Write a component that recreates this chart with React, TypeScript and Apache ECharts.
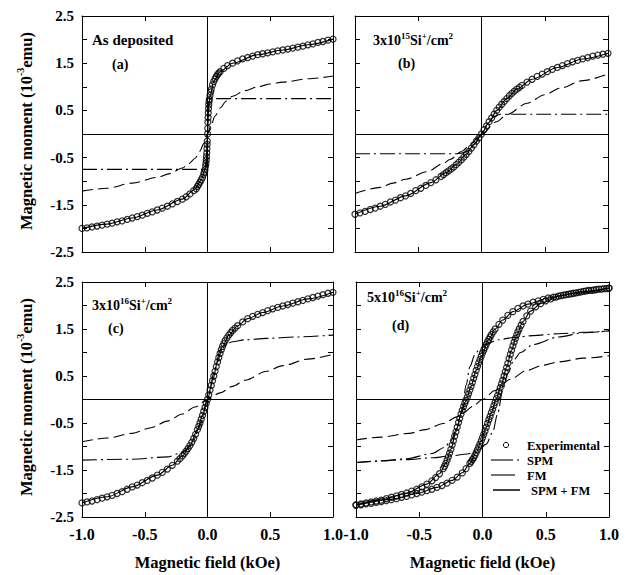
import React, { useEffect, useRef } from 'react';
import * as echarts from 'echarts';

const FONT = '"Liberation Serif","Times New Roman",Times,serif';

const xTickLabels = ['-1.0', '-0.5', '0.0', '0.5', '1.0'];
const yTickLabels = ['-2.5', '-1.5', '-0.5', '0.5', '1.5', '2.5'];

// ---------- Panel (a): As deposited ----------
const expA: number[][] = [
  [-1.0, -2.0], [-0.96, -1.99], [-0.92, -1.97], [-0.88, -1.95], [-0.84, -1.93], [-0.8, -1.91],
  [-0.76, -1.89], [-0.72, -1.86], [-0.68, -1.84], [-0.64, -1.81], [-0.6, -1.78], [-0.56, -1.75],
  [-0.52, -1.72], [-0.48, -1.68], [-0.44, -1.65], [-0.4, -1.61], [-0.36, -1.57], [-0.32, -1.53],
  [-0.28, -1.48], [-0.24, -1.43], [-0.2, -1.38], [-0.17, -1.33], [-0.14, -1.27], [-0.11, -1.2],
  [-0.09, -1.16], [-0.08, -1.11], [-0.07, -1.07], [-0.06, -1.02], [-0.05, -0.97], [-0.04, -0.92],
  [-0.03, -0.85], [-0.025, -0.81], [-0.02, -0.76], [-0.015, -0.68], [-0.0125, -0.62], [-0.01, -0.55],
  [-0.008, -0.48], [-0.006, -0.4], [-0.0045, -0.31], [-0.003, -0.22], [-0.002, -0.15], [0, 0],
  [0.0015, 0.12], [0.003, 0.25], [0.0045, 0.35], [0.006, 0.45], [0.008, 0.54], [0.01, 0.62],
  [0.0125, 0.69], [0.015, 0.74], [0.02, 0.82], [0.025, 0.89], [0.03, 0.95], [0.04, 1.04],
  [0.05, 1.11], [0.06, 1.17], [0.07, 1.22], [0.08, 1.26], [0.09, 1.29], [0.1, 1.32], [0.13, 1.39],
  [0.16, 1.45], [0.2, 1.5], [0.24, 1.55], [0.28, 1.59], [0.32, 1.62], [0.36, 1.65], [0.4, 1.68],
  [0.44, 1.7], [0.48, 1.72], [0.52, 1.74], [0.56, 1.76], [0.6, 1.78], [0.64, 1.8], [0.68, 1.82],
  [0.72, 1.84], [0.76, 1.86], [0.8, 1.89], [0.84, 1.91], [0.88, 1.94], [0.92, 1.96], [0.96, 1.99],
  [1.0, 2.01],
];
const fitA: number[][] = [
  [-1, -2.0], [-0.8, -1.91], [-0.6, -1.78], [-0.4, -1.61], [-0.2, -1.38], [-0.1, -1.17],
  [-0.05, -0.97], [-0.02, -0.76], [-0.01, -0.55], [0, 0], [0.01, 0.6], [0.02, 0.8],
  [0.05, 1.12], [0.1, 1.32], [0.2, 1.5], [0.4, 1.68], [0.6, 1.78], [0.8, 1.89], [1, 2.01],
];
const fmA: number[][] = [
  [-1, -1.21], [-0.8, -1.15], [-0.6, -1.04], [-0.4, -0.92], [-0.3, -0.84], [-0.2, -0.72],
  [-0.15, -0.63], [-0.1, -0.52], [-0.06, -0.36], [-0.03, -0.2], [0, 0], [0.03, 0.2],
  [0.06, 0.38], [0.1, 0.55], [0.15, 0.7], [0.2, 0.8], [0.3, 0.92], [0.4, 1.0], [0.5, 1.06],
  [0.6, 1.1], [0.8, 1.17], [1, 1.23],
];
const spmA: number[][] = [
  [-1, -0.75], [-0.5, -0.75], [-0.03, -0.75], [-0.01, -0.7], [-0.005, -0.5], [0, 0],
  [0.005, 0.5], [0.01, 0.72], [0.03, 0.75], [0.5, 0.75], [1, 0.75],
];

// ---------- Panel (b): 3x10^15 Si+/cm2 ----------
const expB: number[][] = [
  [-1.0, -1.7], [-0.96, -1.67], [-0.92, -1.64], [-0.88, -1.6], [-0.84, -1.57], [-0.8, -1.53],
  [-0.76, -1.49], [-0.72, -1.44], [-0.68, -1.4], [-0.64, -1.35], [-0.6, -1.31], [-0.56, -1.26],
  [-0.52, -1.2], [-0.48, -1.15], [-0.44, -1.09], [-0.4, -1.03], [-0.36, -0.97], [-0.32, -0.9],
  [-0.3, -0.86], [-0.28, -0.82], [-0.26, -0.78], [-0.24, -0.74], [-0.22, -0.7], [-0.2, -0.65],
  [-0.18, -0.6], [-0.16, -0.55], [-0.14, -0.49], [-0.12, -0.43], [-0.1, -0.37], [-0.08, -0.3],
  [-0.06, -0.23], [-0.04, -0.15], [-0.02, -0.08], [0, 0], [0.02, 0.09], [0.04, 0.17], [0.06, 0.26],
  [0.08, 0.34], [0.1, 0.42], [0.12, 0.5], [0.14, 0.57], [0.16, 0.63], [0.18, 0.69], [0.2, 0.75],
  [0.22, 0.81], [0.24, 0.86], [0.26, 0.91], [0.28, 0.95], [0.3, 0.99], [0.32, 1.03], [0.36, 1.1],
  [0.4, 1.16], [0.44, 1.22], [0.48, 1.27], [0.52, 1.32], [0.56, 1.37], [0.6, 1.41], [0.64, 1.45],
  [0.68, 1.49], [0.72, 1.53], [0.76, 1.56], [0.8, 1.59], [0.84, 1.62], [0.88, 1.65], [0.92, 1.67],
  [0.96, 1.69], [1.0, 1.71],
];
const fitB: number[][] = [
  [-1, -1.7], [-0.8, -1.53], [-0.6, -1.31], [-0.4, -1.03], [-0.28, -0.82], [-0.2, -0.65],
  [-0.12, -0.43], [-0.06, -0.22], [0, 0], [0.06, 0.25], [0.12, 0.5], [0.2, 0.75], [0.28, 0.95],
  [0.4, 1.16], [0.6, 1.41], [0.8, 1.59], [1, 1.71],
];
const fmB: number[][] = [
  [-1, -1.26], [-0.8, -1.13], [-0.7, -1.04], [-0.6, -0.96], [-0.43, -0.8], [-0.3, -0.62],
  [-0.25, -0.54], [-0.15, -0.36], [-0.09, -0.22], [0, 0], [0.12, 0.26], [0.2, 0.41],
  [0.36, 0.65], [0.5, 0.83], [0.62, 0.97], [0.8, 1.13], [1, 1.27],
];
const spmB: number[][] = [
  [-1, -0.42], [-0.5, -0.42], [-0.2, -0.42], [-0.15, -0.4], [-0.1, -0.35], [-0.05, -0.2],
  [0, 0], [0.05, 0.22], [0.1, 0.37], [0.15, 0.42], [0.5, 0.42], [1, 0.42],
];

// ---------- Panel (c): 3x10^16 Si+/cm2 ----------
const expC: number[][] = [
  [-1.0, -2.2], [-0.96, -2.18], [-0.92, -2.16], [-0.88, -2.13], [-0.84, -2.1], [-0.8, -2.07],
  [-0.76, -2.04], [-0.72, -2.0], [-0.68, -1.96], [-0.64, -1.91], [-0.6, -1.86], [-0.56, -1.82],
  [-0.52, -1.77], [-0.48, -1.72], [-0.44, -1.67], [-0.4, -1.61], [-0.36, -1.55], [-0.32, -1.48],
  [-0.28, -1.4], [-0.24, -1.31], [-0.22, -1.26], [-0.2, -1.2], [-0.185, -1.15], [-0.17, -1.1],
  [-0.155, -1.04], [-0.14, -0.98], [-0.125, -0.91], [-0.11, -0.83], [-0.095, -0.74], [-0.08, -0.64],
  [-0.07, -0.57], [-0.06, -0.5], [-0.05, -0.42], [-0.04, -0.34], [-0.03, -0.25], [-0.02, -0.17],
  [-0.01, -0.08], [0, 0], [0.01, 0.1], [0.02, 0.2], [0.03, 0.3], [0.04, 0.4], [0.05, 0.5],
  [0.06, 0.6], [0.07, 0.7], [0.08, 0.8], [0.09, 0.89], [0.1, 0.98], [0.11, 1.06], [0.12, 1.13],
  [0.13, 1.19], [0.14, 1.25], [0.155, 1.31], [0.17, 1.37], [0.185, 1.42], [0.2, 1.47], [0.22, 1.52],
  [0.24, 1.57], [0.28, 1.65], [0.32, 1.72], [0.36, 1.77], [0.4, 1.81], [0.44, 1.85], [0.48, 1.89],
  [0.52, 1.93], [0.56, 1.96], [0.6, 1.99], [0.64, 2.02], [0.68, 2.05], [0.72, 2.08], [0.76, 2.11],
  [0.8, 2.14], [0.84, 2.17], [0.88, 2.2], [0.92, 2.23], [0.96, 2.26], [1.0, 2.28],
];
const fitC: number[][] = [
  [-1, -2.2], [-0.8, -2.07], [-0.6, -1.86], [-0.4, -1.61], [-0.28, -1.4], [-0.2, -1.2],
  [-0.14, -0.98], [-0.08, -0.64], [-0.04, -0.34], [0, 0], [0.04, 0.4], [0.08, 0.8], [0.12, 1.13],
  [0.17, 1.37], [0.24, 1.57], [0.32, 1.72], [0.44, 1.85], [0.6, 1.99], [0.8, 2.14], [1, 2.28],
];
const fmC: number[][] = [
  [-1, -0.9], [-0.8, -0.82], [-0.6, -0.72], [-0.45, -0.6], [-0.32, -0.46], [-0.2, -0.31],
  [-0.1, -0.16], [0, 0], [0.1, 0.14], [0.2, 0.28], [0.3, 0.41], [0.47, 0.6], [0.6, 0.72],
  [0.8, 0.86], [1, 0.96],
];
const spmC: number[][] = [
  [-1, -1.29], [-0.6, -1.27], [-0.32, -1.22], [-0.2, -1.13], [-0.166, -1.07], [-0.12, -0.92],
  [-0.06, -0.55], [0, 0], [0.06, 0.65], [0.1, 1.05], [0.15, 1.18], [0.2, 1.23], [0.3, 1.27],
  [0.47, 1.3], [0.7, 1.33], [1, 1.37],
];

// ---------- Panel (d): 5x10^16 Si+/cm2 (hysteresis) ----------
const expDUp: number[][] = [
  [-1.0, -2.24], [-0.96, -2.22], [-0.92, -2.2], [-0.88, -2.18], [-0.84, -2.16], [-0.8, -2.14],
  [-0.76, -2.11], [-0.72, -2.08], [-0.68, -2.05], [-0.64, -2.02], [-0.6, -1.99], [-0.56, -1.95],
  [-0.52, -1.91], [-0.48, -1.86], [-0.44, -1.8], [-0.4, -1.73], [-0.37, -1.66], [-0.34, -1.58],
  [-0.31, -1.47], [-0.3, -1.42], [-0.29, -1.36], [-0.28, -1.29], [-0.27, -1.22], [-0.26, -1.14],
  [-0.25, -1.06], [-0.24, -0.97], [-0.23, -0.88], [-0.22, -0.78], [-0.21, -0.69], [-0.2, -0.59],
  [-0.19, -0.49], [-0.18, -0.4], [-0.17, -0.31], [-0.16, -0.23], [-0.15, -0.15], [-0.14, -0.08],
  [-0.13, -0.02], [-0.12, 0.05], [-0.11, 0.12], [-0.1, 0.2], [-0.09, 0.28], [-0.08, 0.36],
  [-0.07, 0.45], [-0.06, 0.53], [-0.05, 0.62], [-0.04, 0.7], [-0.03, 0.78], [-0.02, 0.85],
  [-0.01, 0.92], [0, 0.99], [0.01, 1.05], [0.02, 1.11], [0.03, 1.17], [0.04, 1.23], [0.05, 1.28],
  [0.06, 1.33], [0.07, 1.38], [0.085, 1.44], [0.1, 1.5], [0.13, 1.6], [0.16, 1.69], [0.2, 1.79],
  [0.24, 1.87], [0.28, 1.94], [0.32, 1.99], [0.36, 2.03], [0.4, 2.07], [0.44, 2.1], [0.48, 2.13],
  [0.52, 2.16], [0.56, 2.18], [0.6, 2.2], [0.64, 2.22], [0.68, 2.24], [0.72, 2.26], [0.76, 2.28],
  [0.8, 2.3], [0.84, 2.32], [0.88, 2.33], [0.92, 2.35], [0.96, 2.36], [1.0, 2.37],
];
const expDLo: number[][] = [
  [-1.0, -2.25], [-0.96, -2.24], [-0.92, -2.22], [-0.88, -2.21], [-0.84, -2.19], [-0.8, -2.17],
  [-0.76, -2.15], [-0.72, -2.13], [-0.68, -2.11], [-0.64, -2.08], [-0.6, -2.06], [-0.56, -2.03],
  [-0.52, -2.0], [-0.48, -1.97], [-0.44, -1.94], [-0.4, -1.91], [-0.36, -1.87], [-0.32, -1.83],
  [-0.28, -1.78], [-0.24, -1.72], [-0.2, -1.65], [-0.16, -1.56], [-0.13, -1.47], [-0.1, -1.36],
  [-0.09, -1.32], [-0.08, -1.28], [-0.07, -1.24], [-0.06, -1.19], [-0.05, -1.13], [-0.04, -1.07],
  [-0.03, -1.01], [-0.02, -0.95], [-0.01, -0.88], [0, -0.81], [0.01, -0.74], [0.02, -0.67],
  [0.03, -0.59], [0.04, -0.51], [0.05, -0.43], [0.06, -0.36], [0.07, -0.28], [0.08, -0.21],
  [0.09, -0.13], [0.1, -0.06], [0.11, 0.02], [0.12, 0.09], [0.13, 0.17], [0.14, 0.25], [0.15, 0.33],
  [0.16, 0.41], [0.17, 0.5], [0.18, 0.59], [0.19, 0.68], [0.2, 0.77], [0.21, 0.87], [0.22, 0.96],
  [0.23, 1.05], [0.24, 1.14], [0.25, 1.22], [0.26, 1.3], [0.27, 1.37], [0.28, 1.44], [0.29, 1.5],
  [0.305, 1.58], [0.32, 1.66], [0.35, 1.78], [0.38, 1.88], [0.42, 1.97], [0.46, 2.04], [0.5, 2.1],
  [0.54, 2.14], [0.58, 2.18], [0.62, 2.21], [0.66, 2.23], [0.7, 2.25], [0.74, 2.27], [0.78, 2.29],
  [0.82, 2.31], [0.86, 2.32], [0.9, 2.34], [0.94, 2.35], [0.98, 2.36], [1.0, 2.37],
];
const fitDUp: number[][] = [
  [-1, -2.24], [-0.8, -2.14], [-0.6, -1.99], [-0.44, -1.8], [-0.34, -1.58], [-0.29, -1.36],
  [-0.25, -1.06], [-0.21, -0.69], [-0.17, -0.31], [-0.13, -0.02], [-0.09, 0.28], [-0.05, 0.62],
  [-0.01, 0.92], [0.05, 1.28], [0.1, 1.5], [0.16, 1.69], [0.24, 1.87], [0.36, 2.03], [0.52, 2.16],
  [0.7, 2.25], [1, 2.37],
];
const fitDLo: number[][] = [
  [-1, -2.25], [-0.7, -2.12], [-0.52, -2.0], [-0.36, -1.87], [-0.24, -1.72], [-0.16, -1.56],
  [-0.1, -1.36], [-0.05, -1.13], [-0.01, -0.88], [0.03, -0.59], [0.07, -0.28], [0.11, 0.02],
  [0.15, 0.33], [0.19, 0.68], [0.23, 1.05], [0.27, 1.37], [0.32, 1.66], [0.38, 1.88], [0.46, 2.04],
  [0.6, 2.2], [0.8, 2.3], [1, 2.37],
];
const fmD: number[][] = [
  [-1, -0.86], [-0.8, -0.8], [-0.58, -0.72], [-0.45, -0.64], [-0.31, -0.51], [-0.2, -0.37],
  [-0.15, -0.28], [-0.08, -0.15], [0, 0], [0.1, 0.19], [0.22, 0.43], [0.35, 0.62], [0.48, 0.73],
  [0.6, 0.8], [0.8, 0.88], [1, 0.93],
];
const spmDUp: number[][] = [
  [-1, -1.34], [-0.8, -1.31], [-0.6, -1.26], [-0.4, -1.15], [-0.3, -1.02], [-0.25, -0.88],
  [-0.2, -0.6], [-0.16, -0.2], [-0.13, 0.3], [-0.1, 0.7], [-0.06, 0.95], [-0.03, 1.05],
  [0.03, 1.18], [0.12, 1.27], [0.25, 1.32], [0.4, 1.36], [0.6, 1.4], [0.8, 1.43], [1, 1.46],
];
const spmDLo: number[][] = [
  [-1, -1.34], [-0.6, -1.28], [-0.4, -1.24], [-0.25, -1.2], [-0.12, -1.16], [-0.03, -1.08],
  [0.03, -0.95], [0.08, -0.7], [0.12, -0.3], [0.16, 0.2], [0.2, 0.55], [0.25, 0.85], [0.3, 1.0],
  [0.4, 1.17], [0.6, 1.33], [0.8, 1.42], [1, 1.46],
];

const grids = [
  { left: 82, top: 16, width: 251, height: 236 },
  { left: 355, top: 16, width: 253, height: 236 },
  { left: 82, top: 282, width: 251, height: 235 },
  { left: 356, top: 282, width: 253, height: 235 },
];

const BLACK = '#000';

function lineSeries(i: number, data: number[][], dash: any, width = 1.1, extra: any = {}) {
  return {
    type: 'line',
    xAxisIndex: i * 2,
    yAxisIndex: i * 2,
    data,
    symbol: 'none',
    showSymbol: false,
    smooth: 0.3,
    smoothMonotone: 'x',
    silent: true,
    lineStyle: { color: BLACK, width, type: dash },
    z: 2,
    ...extra,
  };
}

function expSeries(i: number, data: number[][]) {
  return {
    type: 'scatter',
    xAxisIndex: i * 2,
    yAxisIndex: i * 2,
    data,
    symbol: 'circle',
    symbolSize: 6,
    clip: false,
    silent: true,
    itemStyle: { color: 'rgba(255,255,255,0)', borderColor: BLACK, borderWidth: 1.25 },
    z: 3,
  };
}

const zeroLines = {
  silent: true,
  symbol: ['none', 'none'],
  label: { show: false },
  lineStyle: { color: BLACK, width: 1, type: 'solid' },
  data: [{ xAxis: 0 }, { yAxis: 0 }],
};

const DASH_FM = [11, 5];
const DASH_SPM = [15, 4, 2, 4];

const txt = (x: number, y: number, text: string, size: number, extra: any = {}) => ({
  type: 'text',
  x,
  y,
  silent: true,
  style: {
    text,
    fill: BLACK,
    fontSize: size,
    fontWeight: 'bold',
    fontFamily: FONT,
    textAlign: 'left',
    textVerticalAlign: 'middle',
    ...extra,
  },
});

const richSup = (size: number, supSize: number) => ({
  n: { fontSize: size, fontWeight: 'bold', fontFamily: FONT, fill: BLACK, lineHeight: size + 4 },
  s: { fontSize: supSize, fontWeight: 'bold', fontFamily: FONT, fill: BLACK, lineHeight: supSize + 1, verticalAlign: 'top' },
});

export default function App() {
  const ref = useRef<HTMLDivElement>(null);
  useEffect(() => {
    if (!ref.current) return;
    const chart = echarts.init(ref.current, null, { renderer: 'svg' });

    const xAxis: any[] = [];
    const yAxis: any[] = [];
    grids.forEach((_, i) => {
      const common = {
        gridIndex: i,
        type: 'value',
        min: -1,
        max: 1,
        interval: 0.5,
        axisLine: { show: true, onZero: false, lineStyle: { color: BLACK, width: 1 } },
        axisTick: { show: true, inside: true, length: 5, lineStyle: { color: BLACK } },
        splitLine: { show: false },
      };
      xAxis.push({
        ...common,
        position: 'bottom',
        axisLabel: {
          show: i >= 2,
          margin: 9,
          color: BLACK,
          fontSize: 16,
          fontWeight: 'bold',
          fontFamily: FONT,
          showMinLabel: true,
          showMaxLabel: true,
          formatter: (v: number) => {
            const s = v.toFixed(1);
            return xTickLabels.includes(s) ? s : '';
          },
        },
      });
      xAxis.push({ ...common, position: 'top', axisLabel: { show: false } });
      const ycommon = {
        gridIndex: i,
        type: 'value',
        min: -2.5,
        max: 2.5,
        interval: 0.5,
        axisLine: { show: true, onZero: false, lineStyle: { color: BLACK, width: 1 } },
        axisTick: { show: true, inside: true, length: 5, lineStyle: { color: BLACK } },
        splitLine: { show: false },
      };
      yAxis.push({
        ...ycommon,
        position: 'left',
        axisLabel: {
          show: i % 2 === 0,
          margin: 8,
          color: BLACK,
          fontSize: 15,
          fontWeight: 'bold',
          fontFamily: FONT,
          showMinLabel: true,
          showMaxLabel: true,
          formatter: (v: number) => {
            const s = v.toFixed(1);
            return yTickLabels.includes(s) ? s : '';
          },
        },
      });
      yAxis.push({ ...ycommon, position: 'right', axisLabel: { show: false } });
    });

    const series: any[] = [
      lineSeries(0, fitA, 'solid', 1.1, { markLine: zeroLines }),
      lineSeries(0, fmA, DASH_FM),
      lineSeries(0, spmA, DASH_SPM, 1.1, { smooth: false }),
      expSeries(0, expA),
      lineSeries(1, fitB, 'solid', 1.1, { markLine: zeroLines }),
      lineSeries(1, fmB, DASH_FM),
      lineSeries(1, spmB, DASH_SPM),
      expSeries(1, expB),
      lineSeries(2, fitC, 'solid', 1.1, { markLine: zeroLines }),
      lineSeries(2, fmC, DASH_FM),
      lineSeries(2, spmC, DASH_SPM),
      expSeries(2, expC),
      lineSeries(3, fitDUp, 'solid', 1.1, { markLine: zeroLines }),
      lineSeries(3, fitDLo, 'solid'),
      lineSeries(3, fmD, DASH_FM),
      lineSeries(3, spmDUp, DASH_SPM),
      lineSeries(3, spmDLo, DASH_SPM),
      expSeries(3, expDUp),
      expSeries(3, expDLo),
    ];

    const yTitle = '{n|Magnetic moment (10}{s|-3}{n|emu)}';
    const graphic: any[] = [
      txt(92, 40, 'As deposited', 15),
      txt(112, 64, '(a)', 14),
      txt(373, 40, '{n|3x10}{s|15}{n|Si}{s|+}{n|/cm}{s|2}', 14, { rich: richSup(14, 9) }),
      txt(398, 63, '(b)', 14),
      txt(92, 305, '{n|3x10}{s|16}{n|Si}{s|+}{n|/cm}{s|2}', 14, { rich: richSup(14, 9) }),
      txt(108, 328, '(c)', 14),
      txt(367, 297, '{n|5x10}{s|16}{n|Si}{s|+}{n|/cm}{s|2}', 14, { rich: richSup(14, 9) }),
      txt(392, 325, '(d)', 14),
      { ...txt(26, 131, yTitle, 16.5, { textAlign: 'center', rich: richSup(16.5, 10) }), rotation: Math.PI / 2 },
      { ...txt(26, 397, yTitle, 16.5, { textAlign: 'center', rich: richSup(16.5, 10) }), rotation: Math.PI / 2 },
      txt(207.5, 562, 'Magnetic field (kOe)', 16.5, { textAlign: 'center' }),
      txt(482.5, 562, 'Magnetic field (kOe)', 16.5, { textAlign: 'center' }),
      { type: 'circle', silent: true, shape: { cx: 506, cy: 445, r: 2.6 }, style: { fill: 'none', stroke: BLACK, lineWidth: 1 } },
      txt(527, 446, 'Experimental', 12.5),
      { type: 'line', silent: true, shape: { x1: 491, y1: 460, x2: 513, y2: 460 }, style: { stroke: BLACK, lineWidth: 1.1 } },
      { type: 'line', silent: true, shape: { x1: 517, y1: 460, x2: 519, y2: 460 }, style: { stroke: BLACK, lineWidth: 1.1 } },
      txt(527, 461, 'SPM', 12.5),
      { type: 'line', silent: true, shape: { x1: 491, y1: 475, x2: 515, y2: 475 }, style: { stroke: BLACK, lineWidth: 1.1 } },
      txt(527, 476, 'FM', 12.5),
      { type: 'line', silent: true, shape: { x1: 493, y1: 490, x2: 520, y2: 490 }, style: { stroke: BLACK, lineWidth: 1.5 } },
      txt(531, 491, 'SPM + FM', 12.5),
    ];

    chart.setOption({
      animation: false,
      backgroundColor: '#fff',
      grid: grids.map((g) => ({ ...g, containLabel: false })),
      xAxis,
      yAxis,
      series,
      graphic,
    });
    return () => chart.dispose();
  }, []);

  return (
    <div
      ref={ref}
      style={{ position: 'fixed', left: 0, top: 0, width: 630, height: 575, background: '#fff' }}
    />
  );
}
